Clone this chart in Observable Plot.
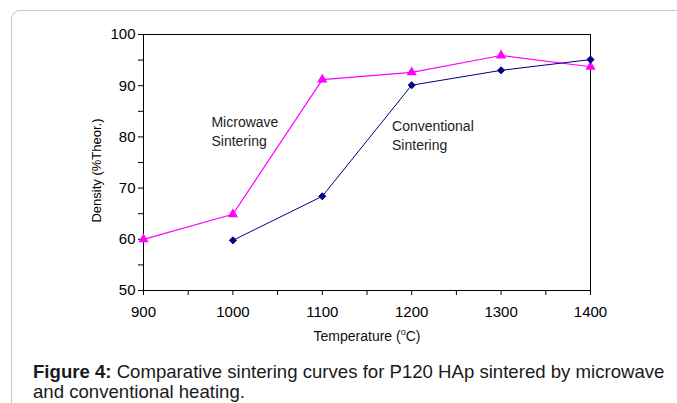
<!DOCTYPE html>
<html><head><meta charset="utf-8">
<script src="https://cdn.jsdelivr.net/npm/d3@7"></script>
<script src="https://cdn.jsdelivr.net/npm/@observablehq/plot@0.6"></script>
<style>
html,body{margin:0;padding:0;background:#fff;}
#wrap{position:relative;width:677px;height:403px;overflow:hidden;font-family:"Liberation Sans",Arial,sans-serif;}
#box{position:absolute;left:11px;top:10px;width:720px;height:460px;border:1px solid #c6c6c6;border-radius:9px;}
#chart{position:absolute;left:0;top:0;}
#caption{position:absolute;left:33px;top:362px;font-size:18.6px;line-height:20px;color:#1a1a1a;white-space:nowrap;}
</style></head>
<body>
<div id="wrap"><div id="box"></div><div id="chart"></div>
<div id="caption"><b>Figure 4:</b> Comparative sintering curves for P120 HAp sintered by microwave<br>and conventional heating.</div></div>
<script>
// Data
const temperatures = [900, 1000, 1100, 1200, 1300, 1400];
const microwave = [60.0, 64.9, 91.2, 92.6, 95.9, 93.7];
const conventional = [null, 59.8, 68.4, 90.1, 93.0, 95.1];

const xTickValues = [900, 950, 1000, 1050, 1100, 1150, 1200, 1250, 1300, 1350, 1400];
const xTickLabels = [900, 1000, 1100, 1200, 1300, 1400];
const yTickValues = [50, 55, 60, 65, 70, 75, 80, 85, 90, 95, 100];
const yTickLabels = [50, 60, 70, 80, 90, 100];

const annotationText = ["Microwave\nSintering", "Conventional\nSintering"];
const annotationX = [976, 1178];
const annotationY = [81.3, 80.5];

const xTitle = "Temperature (oC)";
const yTitle = "Density (%Theor.)";

const mw = temperatures.map((t, i) => ({t, v: microwave[i]})).filter(d => d.v != null);
const cv = temperatures.map((t, i) => ({t, v: conventional[i]})).filter(d => d.v != null);
const notes = annotationText.map((s, i) => ({s, x: annotationX[i], y: annotationY[i]}));

const plot = Plot.plot({
  width: 677, height: 352,
  marginLeft: 143, marginRight: 87, marginTop: 34, marginBottom: 62,
  x: {domain: [900, 1400]},
  y: {domain: [50, 100]},
  style: {fontFamily: "'Liberation Sans', Arial, sans-serif", fontSize: "14px", color: "#000", background: "transparent", overflow: "visible"},
  marks: [
    Plot.frame({stroke: "#000"}),
    Plot.axisX({ticks: xTickValues, tickSize: 5, tickPadding: 11, fontSize: 15, fill: "#000", tickFormat: d => xTickLabels.includes(d) ? String(d) : "", label: null}),
    Plot.axisY({ticks: yTickValues, tickSize: 5, tickPadding: 3, fontSize: 15, fill: "#000", tickFormat: d => yTickLabels.includes(d) ? String(d) : "", label: null}),
    Plot.line(mw, {x: "t", y: "v", stroke: "#ff00ff", strokeWidth: 1.2}),
    Plot.line(cv, {x: "t", y: "v", stroke: "#000080", strokeWidth: 1}),
    Plot.dot(mw, {x: "t", y: "v", symbol: "triangle", fill: "#ff00ff", r: 3.8}),
    Plot.dot(cv, {x: "t", y: "v", symbol: "diamond2", fill: "#000080", stroke: "#000080", strokeWidth: 1, r: 3.2}),
    Plot.text(notes, {x: "x", y: "y", text: "s", textAnchor: "start", lineAnchor: "middle", lineHeight: 1.33, fontSize: 14, fill: "#222"}),
    Plot.text([yTitle], {text: d => d, frameAnchor: "left", textAnchor: "middle", rotate: -90, lineAnchor: "top", dx: -52, dy: 8, fontSize: 13, fill: "#000"}),
    Plot.text([xTitle], {text: d => d, frameAnchor: "bottom", textAnchor: "middle", lineAnchor: "bottom", dy: 50, fontSize: 14, fill: "#111"})
  ]
});
document.getElementById("chart").appendChild(plot);

// superscript "o" in the x title
const NS = "http://www.w3.org/2000/svg";
plot.querySelectorAll("text").forEach(el => {
  if (el.textContent === xTitle) {
    const target = el.querySelector("tspan") || el;
    target.textContent = "";
    const a = document.createElementNS(NS, "tspan"); a.textContent = "Temperature (";
    const b = document.createElementNS(NS, "tspan"); b.textContent = "o"; b.setAttribute("font-size", "9"); b.setAttribute("dy", "-6");
    const c = document.createElementNS(NS, "tspan"); c.textContent = "C)"; c.setAttribute("dy", "6");
    target.append(a, b, c);
  }
});
</script>
</body></html>
